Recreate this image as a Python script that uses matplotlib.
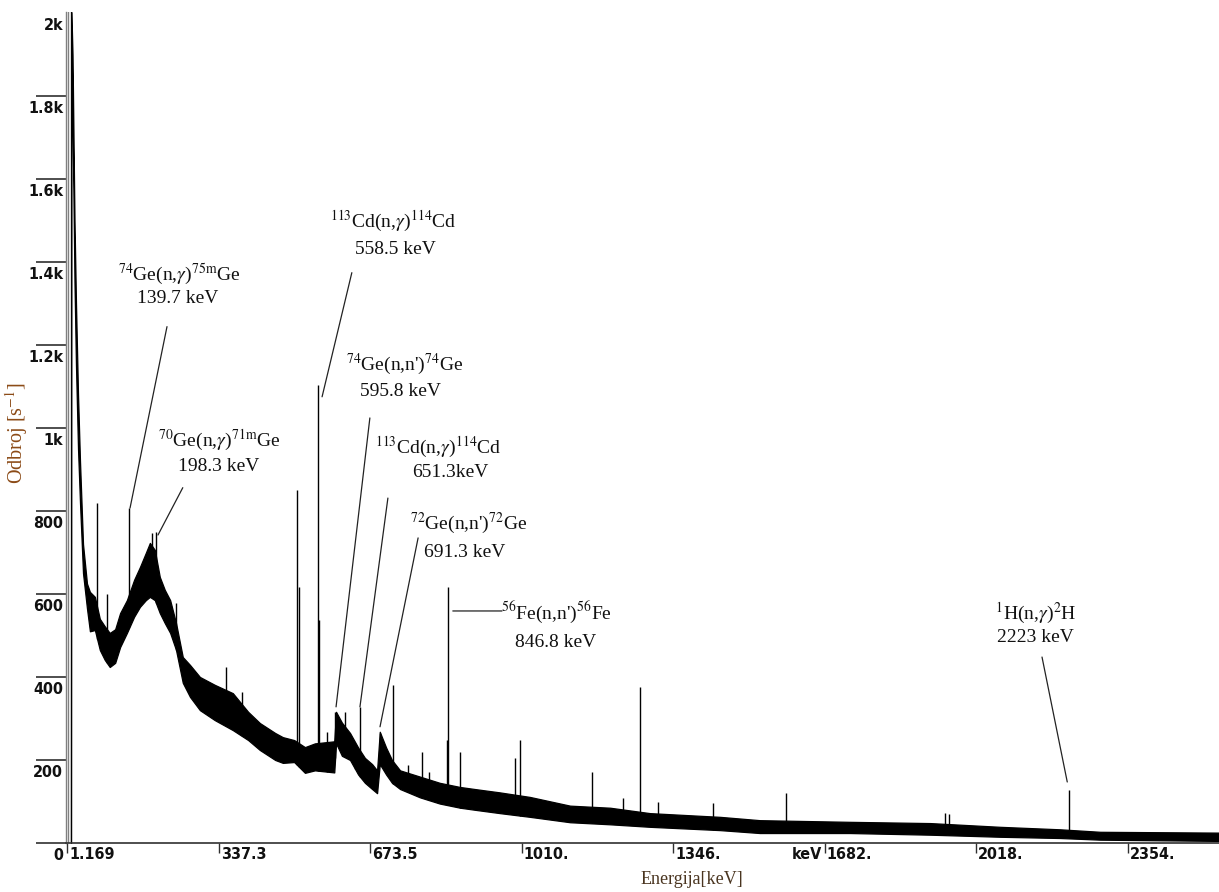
import matplotlib
matplotlib.use("Agg")
import matplotlib.pyplot as plt
import numpy as np
from matplotlib import font_manager

# ---------------- data ----------------
# continuum band (energy keV, upper and lower edge of the noisy band, counts)
cont_energy = [10, 11, 13.4, 15.6, 17.8, 21.1, 25.6, 30, 36.7, 45.5, 52, 63, 74, 85, 96, 108,
               119, 134, 150, 163, 176, 185, 196, 207, 218, 230, 243, 258, 274, 296, 329,
               369, 403, 429, 463, 480, 505, 529, 551, 594, 598, 611, 629, 647, 662, 678,
               689, 695, 709, 722, 740, 784, 828, 873, 906, 961, 1028, 1117, 1206, 1294,
               1450, 1538, 1738, 1916, 2071, 2204, 2293, 2557]
cont_upper = [2005, 2000, 1900, 1700, 1500, 1300, 1080, 920, 720, 625, 605, 593, 540, 522, 506, 515,
              554, 585, 634, 665, 699, 723, 706, 641, 610, 585, 530, 448, 429, 400, 381,
              361, 316, 289, 265, 255, 248, 231, 240, 245, 316, 290, 265, 230, 205, 190,
              175, 268, 230, 200, 175, 160, 145, 135, 130, 122, 111, 90, 85, 72,
              63, 55, 51, 48, 39, 33, 27, 25]
cont_lower = [0, 1950, 1750, 1550, 1350, 1150, 950, 820, 650, 565, 510, 513, 465, 441, 424, 434,
              472, 506, 545, 569, 585, 593, 585, 554, 530, 506, 465, 386, 352, 320, 296,
              272, 248, 224, 200, 193, 195, 169, 175, 170, 240, 210, 200, 165, 145, 130,
              120, 190, 165, 145, 130, 110, 95, 85, 80, 72, 63, 50, 45, 39,
              31, 24, 24, 20, 15, 12, 8, 5]

# narrow peaks (energy keV, top counts)
peak_energy = [67.7, 90, 139.7, 190, 198.3, 243, 354, 389, 511, 516, 558.5, 561, 578, 596,
               618, 640, 651.3, 695.5, 724, 757, 788, 805, 843, 846.8, 873, 995, 1006,
               1166, 1234, 1272, 1312, 1434, 1596, 1949, 1958, 2223]
peak_height = [820, 600, 807, 747, 750, 578, 424, 364, 851, 617, 1104, 537, 267, 316,
               316, 231, 328, 265, 381, 188, 219, 171, 248, 617, 219, 205, 248,
               171, 108, 376, 99, 96, 120, 72, 70, 128]

x_ticks = [1.169, 337.3, 673.5, 1010, 1346, 1682, 2018, 2354]
x_tick_labels = ["1.169", "337.3", "673.5", "1010.", "1346.", "1682.", "2018.", "2354."]
y_ticks = [0, 200, 400, 600, 800, 1000, 1200, 1400, 1600, 1800]
y_label_values = [0, 200, 400, 600, 800, 1000, 1200, 1400, 1600, 1800, 2000]
y_tick_labels = ["0", "200", "400", "600", "800", "1k", "1.2k", "1.4k", "1.6k", "1.8k", "2k"]

ann_line1 = [r"$^{74}$Ge(n,$\gamma$)$^{\mathrm{75m}}$Ge",
             r"$^{70}$Ge(n,$\gamma$)$^{\mathrm{71m}}$Ge",
             r"$^{113}$Cd(n,$\gamma$)$^{114}$Cd",
             r"$^{74}$Ge(n,n')$^{74}$Ge",
             r"$^{113}$Cd(n,$\gamma$)$^{114}$Cd",
             r"$^{72}$Ge(n,n')$^{72}$Ge",
             r"$^{56}$Fe(n,n')$^{56}$Fe",
             r"$^{1}$H(n,$\gamma$)$^{2}$H"]
ann_line2 = ["139.7 keV", "198.3 keV", "558.5 keV", "595.8 keV", "651.3keV",
             "691.3 keV", "846.8 keV", "2223 keV"]

# ---------------- layout (positions in data units) ----------------
ann_pos1 = [(251, 1369), (340, 969), (724, 1497), (751, 1152), (824, 954), (893, 771), (1088, 557), (2150, 554)]
ann_pos2 = [(247, 1311), (338, 908), (729, 1429), (742, 1087), (851, 892), (884, 701), (1084, 484), (2150, 494)]
lead_from = [(223, 1244), (258, 856), (633, 1374), (673, 1024), (713, 831), (780, 735), (857, 559), (2164, 448)]
lead_to = [(141, 807), (203, 742), (567, 1075), (598, 328), (651, 328), (695.5, 280), (966, 559), (2220, 147)]

W, H = 1219, 892
fig = plt.figure(figsize=(W / 100, H / 100), dpi=100)
ax = fig.add_axes([66 / W, (H - 843) / H, 1 - 66 / W, (843 - 12) / H])

names = {f.name for f in font_manager.fontManager.ttflist}
if "Liberation Sans Narrow" in names:
    tick_font = dict(family=["Liberation Sans Narrow", "DejaVu Sans"], fontsize=13)
else:
    tick_font = dict(family=["DejaVu Sans"], fontstretch="condensed", fontsize=11.5)
plt.rcParams["mathtext.fontset"] = "stix"
serif = ["Liberation Serif", "DejaVu Serif"]

ax.fill_between(cont_energy, cont_lower, cont_upper, color="black", lw=0.9)
base = np.interp(peak_energy, cont_energy, cont_lower)
ax.vlines(peak_energy, base, peak_height, color="black", lw=1.0)

ax.set_xlim(-1.05, 2556.6)
ax.set_ylim(0, 2002)

for s in ["top", "right"]:
    ax.spines[s].set_visible(False)
ax.spines["left"].set_color("#808080")
ax.spines["left"].set_linewidth(1.0)
ax.spines["bottom"].set_color("#303030")
ax.spines["bottom"].set_linewidth(1.2)
ax.axvline(-1.05 + 2 / 0.4508, color="#808080", lw=1.0)

ax.set_xticks(x_ticks)
ax.set_xticklabels([])
ax.tick_params(axis="x", direction="out", length=7, width=1, color="#303030")
ax.set_yticks(y_ticks)
ax.set_yticklabels([])
ax.tick_params(axis="y", direction="out", length=21.5, width=1.2, color="#303030")

for t, lab in zip(x_ticks, x_tick_labels):
    ax.annotate(lab, xy=(t, 0), xycoords=("data", "axes fraction"), xytext=(1.5, -3),
                textcoords="offset points", ha="left", va="top",
                fontweight="bold", color="#111111", **tick_font)
ax.annotate("keV", xy=(1682, 0), xycoords=("data", "axes fraction"), xytext=(-2, -3),
            textcoords="offset points", ha="right", va="top",
            fontweight="bold", color="#111111", **tick_font)
for v, lab in zip(y_label_values, y_tick_labels):
    ax.annotate(lab, xy=(0, v), xycoords=("axes fraction", "data"), xytext=(-2, -3.5),
                textcoords="offset points", ha="right", va="top",
                fontweight="bold", color="#111111", annotation_clip=False, **tick_font)

for l1, l2, p1, p2, a, b in zip(ann_line1, ann_line2, ann_pos1, ann_pos2, lead_from, lead_to):
    ax.text(p1[0], p1[1], l1, ha="center", va="center", fontsize=14, family=serif, color="#111111")
    ax.text(p2[0], p2[1], l2, ha="center", va="center", fontsize=14, family=serif, color="#111111")
    ax.annotate("", xy=b, xytext=a, arrowprops=dict(arrowstyle="-", color="#222222", lw=0.9,
                                                    shrinkA=0, shrinkB=0))

fig.text(17 / W, 1 - 433 / H, "Odbroj [s$^{-1}$]", rotation=90, ha="center", va="center",
         fontsize=14.5, family=serif, color="#8B4A16")
fig.text(692 / W, 1 - 880 / H, "Energija[keV]", ha="center", va="center",
         fontsize=13, family=serif, color="#4a3520")

fig.savefig("out.png", dpi=100)
